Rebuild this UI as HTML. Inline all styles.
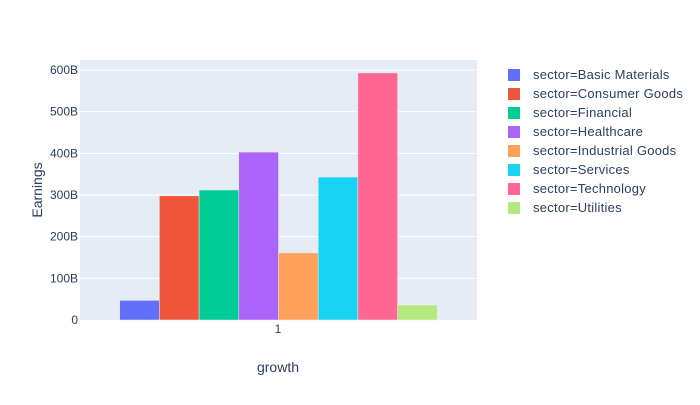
<!DOCTYPE html>
<html><head><meta charset="utf-8"><style>
body{margin:0;background:#fff;font-family:"Liberation Sans",sans-serif;}
svg text{font-family:"Liberation Sans",sans-serif;fill:#2a3f5f;}
</style></head><body>
<svg id="chart" width="700" height="400">
<rect x="80" y="60" width="397" height="260" fill="#e5ecf6"/>
<g id="grid"></g><g id="bars"></g><g id="legend"></g>
<text x="278" y="333" font-size="12" text-anchor="middle">1</text>
<text x="278" y="372" font-size="14" text-anchor="middle">growth</text>
<text transform="translate(42,190) rotate(-90)" font-size="14" text-anchor="middle">Earnings</text>
</svg>
<script>
const categories=["Basic Materials","Consumer Goods","Financial","Healthcare","Industrial Goods","Services","Technology","Utilities"];
const values=[47,298,312,403,161,343,593,36];
const colors=["#636efa","#EF553B","#00cc96","#ab63fa","#FFA15A","#19d3f3","#FF6692","#B6E880"];
const yTicks=[0,100,200,300,400,500,600];
const yTickLabels=["0","100B","200B","300B","400B","500B","600B"];
const NS="http://www.w3.org/2000/svg";
const x0=80,w=397,yBase=320,pxPer=260/624;
function y(v){return yBase-v*pxPer;}
const grid=document.getElementById('grid');
yTicks.forEach((t,i)=>{
 if(t>0){const l=document.createElementNS(NS,'line');
 l.setAttribute('x1',x0);l.setAttribute('x2',x0+w);l.setAttribute('y1',y(t));l.setAttribute('y2',y(t));
 l.setAttribute('stroke','#fff');l.setAttribute('stroke-width','1');
 
 
 grid.appendChild(l);}
 const tx=document.createElementNS(NS,'text');
 tx.setAttribute('x',x0-2);tx.setAttribute('y',y(t)+4);tx.setAttribute('text-anchor','end');tx.setAttribute('font-size','12');
 tx.textContent=yTickLabels[i];
 
 
 grid.appendChild(tx);
});
const bars=document.getElementById('bars');
const bw=w*0.8/categories.length, start=x0+w*0.1;
const leg=document.getElementById('legend');
categories.forEach((c,i)=>{
 const r=document.createElementNS(NS,'rect');
 r.setAttribute('x',start+i*bw);r.setAttribute('width',bw);
 r.setAttribute('y',y(values[i]));r.setAttribute('height',yBase-y(values[i]));
 r.setAttribute('fill',colors[i]);r.setAttribute('stroke','#e5ecf6');r.setAttribute('stroke-width','0.5');
 
 
 bars.appendChild(r);
 const ly=75+i*19;
 const g=document.createElementNS(NS,'g');
 
 
 const s=document.createElementNS(NS,'rect');
 s.setAttribute('x',508);s.setAttribute('y',ly-6);s.setAttribute('width',12);s.setAttribute('height',12);s.setAttribute('fill',colors[i]);
 const t=document.createElementNS(NS,'text');
 t.setAttribute('x',533);t.setAttribute('y',ly+4);t.setAttribute('font-size','13');t.setAttribute('letter-spacing','0.25');t.textContent='sector='+c;
 g.appendChild(s);g.appendChild(t);leg.appendChild(g);
});
</script>
</body></html>
